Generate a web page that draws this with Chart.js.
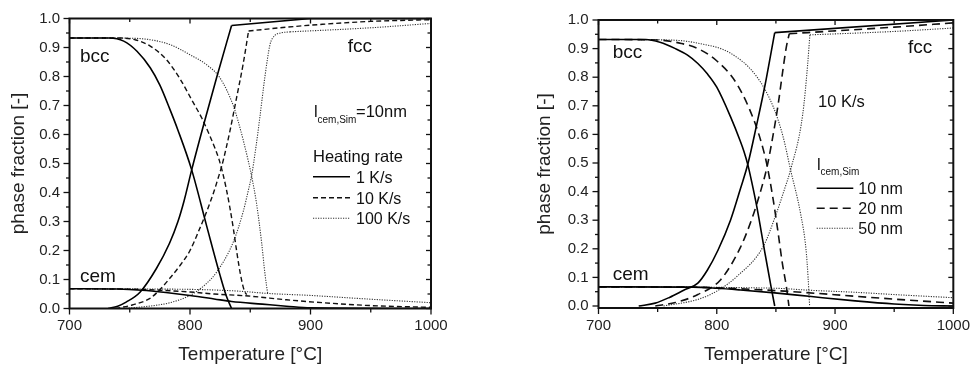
<!DOCTYPE html>
<html><head><meta charset="utf-8">
<script src="https://cdn.jsdelivr.net/npm/chart.js@4.4.1/dist/chart.umd.min.js"></script>
<style>
html,body{margin:0;padding:0;background:#fff;}
#wrap{position:relative;width:979px;height:367px;overflow:hidden;background:#fff;}
canvas{position:absolute;top:0;}
</style></head><body>
<div id="wrap">
<canvas id="left" width="490" height="367" style="left:0"></canvas>
<canvas id="right" width="489" height="367" style="left:490px"></canvas>
</div>
<script>
// ---------- tick labels ----------
const xTicks = [700, 800, 900, 1000];
const xMinor = [750, 850, 950];
const yTicks = [0, 0.1, 0.2, 0.3, 0.4, 0.5, 0.6, 0.7, 0.8, 0.9, 1.0];
const yMinor = [0.05, 0.15, 0.25, 0.35, 0.45, 0.55, 0.65, 0.75, 0.85, 0.95];

// ---------- LEFT chart: heating rate (l_cem,Sim = 10 nm) ----------
const L_bcc_1_T = [700, 733, 745, 756, 767, 775, 783, 790, 801.4, 813.8, 824.9, 830, 834.5];
const L_bcc_1_Y = [0.933, 0.933, 0.922, 0.887, 0.83, 0.77, 0.69, 0.615, 0.478, 0.285, 0.115, 0.045, 0];
const L_fcc_1_T = [732, 740, 747, 758.5, 772, 783, 790, 795, 801.4, 812.4, 822, 834.5];
const L_fcc_1_Y = [0, 0.008, 0.022, 0.056, 0.137, 0.225, 0.3, 0.37, 0.478, 0.65, 0.795, 0.976];
const L_fcc_1_topT = [834.5, 900, 1000];
const L_fcc_1_topY = [0.976, 1.0, 1.0];
const L_cem_1_T = [700, 740, 760, 780, 800, 820, 834.5, 860, 880, 900, 1000];
const L_cem_1_Y = [0.068, 0.067, 0.063, 0.055, 0.045, 0.033, 0.024, 0.015, 0.008, 0.002, 0];

const L_bcc_10_T = [700, 740, 755, 767, 780, 792, 802, 810, 816, 821, 824, 827, 830, 833, 836, 839, 842, 845, 847];
const L_bcc_10_Y = [0.933, 0.933, 0.926, 0.905, 0.86, 0.79, 0.715, 0.655, 0.6, 0.55, 0.515, 0.47, 0.415, 0.35, 0.275, 0.19, 0.115, 0.062, 0.048];
const L_fcc_10_T = [738, 752, 766.8, 775, 783.4, 792, 800, 807, 813.9, 820, 823, 826.3, 830, 833.2, 838.8, 844.2, 848.6];
const L_fcc_10_Y = [0, 0.012, 0.035, 0.065, 0.105, 0.15, 0.2, 0.265, 0.335, 0.405, 0.445, 0.49, 0.553, 0.613, 0.73, 0.845, 0.957];
const L_fcc_10_topT = [848.6, 880, 910, 950, 1000];
const L_fcc_10_topY = [0.957, 0.97, 0.98, 0.99, 0.996];
const L_cem_10_T = [700, 760, 780, 800, 820, 848.6, 880, 910, 950, 1000];
const L_cem_10_Y = [0.068, 0.066, 0.062, 0.057, 0.05, 0.043, 0.03, 0.02, 0.01, 0.004];

const L_bcc_100_T = [700, 750, 766.8, 783.4, 800, 813.9, 824.9, 835.9, 840, 844.2, 848, 851.2, 855.3, 859.5, 862.2, 864.5];
const L_bcc_100_Y = [0.933, 0.932, 0.927, 0.91, 0.875, 0.84, 0.795, 0.70, 0.645, 0.58, 0.515, 0.455, 0.36, 0.225, 0.12, 0.05];
const L_fcc_100_T = [745, 770, 783.4, 800, 812, 822.2, 836, 844.2, 848, 851.2, 854.5, 858, 862.2, 866.4, 870, 875, 883];
const L_fcc_100_Y = [0, 0.01, 0.02, 0.045, 0.08, 0.126, 0.23, 0.335, 0.4, 0.46, 0.55, 0.66, 0.80, 0.91, 0.94, 0.95, 0.954];
const L_fcc_100_topT = [883, 950, 1000];
const L_fcc_100_topY = [0.954, 0.968, 0.983];
const L_cem_100_T = [700, 800, 840, 864.5, 900, 950, 1000];
const L_cem_100_Y = [0.068, 0.066, 0.06, 0.052, 0.045, 0.032, 0.02];

// ---------- RIGHT chart: 10 K/s, l_cem,Sim = 10 / 20 / 50 nm ----------
const R_bcc_10_T = [700, 740, 752, 765, 775, 784, 792, 800, 811.6, 820, 823, 826.5, 830, 833.8, 840.7, 846.3, 849];
const R_bcc_10_Y = [0.932, 0.932, 0.922, 0.9, 0.878, 0.848, 0.812, 0.765, 0.662, 0.575, 0.54, 0.49, 0.425, 0.348, 0.186, 0.058, 0];
const R_fcc_10_T = [734, 748, 760, 772, 784, 792, 801, 811.6, 820, 826.5, 833.8, 840.7, 846.3, 849];
const R_fcc_10_Y = [0, 0.01, 0.03, 0.055, 0.08, 0.125, 0.195, 0.3, 0.41, 0.5, 0.635, 0.77, 0.895, 0.956];
const R_fcc_10_topT = [849, 1000];
const R_fcc_10_topY = [0.956, 1.0];
const R_cem_10_T = [700, 780, 800, 820, 849, 880, 917, 950, 975, 1000];
const R_cem_10_Y = [0.067, 0.066, 0.062, 0.056, 0.046, 0.033, 0.018, 0.007, 0.002, 0];

const R_bcc_20_T = [700, 750, 770, 784, 800.6, 817.2, 832.4, 839.4, 842.7, 847.7, 851.9, 855.4, 858.8, 861];
const R_bcc_20_Y = [0.932, 0.93, 0.918, 0.9, 0.855, 0.775, 0.639, 0.546, 0.488, 0.372, 0.255, 0.151, 0.069, 0];
const R_fcc_20_T = [748, 765, 784, 803.3, 820, 829.7, 836.6, 842.7, 847.7, 851.9, 855.4, 858.8, 861.3];
const R_fcc_20_Y = [0, 0.012, 0.04, 0.092, 0.205, 0.305, 0.395, 0.49, 0.6, 0.705, 0.81, 0.905, 0.952];
const R_fcc_20_topT = [861.3, 900, 950, 1000];
const R_fcc_20_topY = [0.952, 0.962, 0.975, 0.99];
const R_cem_20_T = [700, 790, 820, 840, 861.3, 917, 950, 1000];
const R_cem_20_Y = [0.067, 0.065, 0.06, 0.056, 0.051, 0.034, 0.024, 0.01];

const R_bcc_50_T = [700, 760, 784, 811.6, 833.8, 847.7, 856, 862.4, 871, 875.4, 877.2, 878.5];
const R_bcc_50_Y = [0.932, 0.93, 0.919, 0.884, 0.802, 0.697, 0.593, 0.476, 0.32, 0.2, 0.1, 0];
const R_fcc_50_T = [755, 784, 800, 817.2, 839.4, 850.5, 857.4, 862.4, 872.6, 876.8, 878.7];
const R_fcc_50_Y = [0, 0.023, 0.052, 0.104, 0.209, 0.325, 0.41, 0.476, 0.668, 0.843, 0.948];
const R_fcc_50_topT = [878.7, 950, 1000];
const R_fcc_50_topY = [0.948, 0.96, 0.972];
const R_cem_50_T = [700, 850, 878.7, 917, 950, 1000];
const R_cem_50_Y = [0.067, 0.062, 0.055, 0.048, 0.04, 0.029];

// ---------- styles ----------
const FONT = "'Liberation Sans', Arial, Helvetica, sans-serif";
const STY = {
  solid:   { color: '#000', width: 1.6, dash: [] },
  dashL:   { color: '#111', width: 1.4, dash: [5, 3] },
  dashR:   { color: '#111', width: 1.6, dash: [8, 5] },
  dotted:  { color: '#333', width: 1.1, dash: [1.2, 1.3] }
};

function ds(T, Y, s, straight) {
  const d = {
    data: T.map((t, i) => ({ x: t, y: Y[i] })),
    borderColor: s.color, borderWidth: s.width, borderDash: s.dash,
    pointRadius: 0, fill: false, showLine: true
  };
  if (straight) { d.tension = 0; d.cubicInterpolationMode = 'default'; }
  else { d.cubicInterpolationMode = 'monotone'; }
  return d;
}

function framePlugin(ann) {
  return {
    id: 'frameAnn',
    afterDatasetsDraw(chart) {
      const { ctx, chartArea: a, scales: { x, y } } = chart;
      ctx.save();
      ctx.strokeStyle = '#111';
      ctx.lineWidth = 1.3;
      ctx.setLineDash([]);
      const seg = (x1, y1, x2, y2) => { ctx.beginPath(); ctx.moveTo(x1, y1); ctx.lineTo(x2, y2); ctx.stroke(); };
      xTicks.forEach(v => { const p = x.getPixelForValue(v); seg(p, a.bottom, p, a.bottom + 6); seg(p, a.top, p, a.top + 5); });
      xMinor.forEach(v => { const p = x.getPixelForValue(v); seg(p, a.bottom, p, a.bottom + 4); seg(p, a.top, p, a.top + 3.5); });
      yTicks.forEach(v => { const p = y.getPixelForValue(v); seg(a.left - 6, p, a.left, p); seg(a.right - 5, p, a.right, p); });
      yMinor.forEach(v => { const p = y.getPixelForValue(v); seg(a.left - 3.5, p, a.left, p); seg(a.right - 3.5, p, a.right, p); });
      ctx.lineWidth = 2;
      ctx.strokeRect(a.left, a.top, a.right - a.left, a.bottom - a.top);

      // annotations
      ctx.fillStyle = '#111';
      ctx.textBaseline = 'alphabetic';
      ctx.textAlign = 'left';
      ann.texts.forEach(t => { ctx.font = t.size + 'px ' + FONT; ctx.fillText(t.t, t.x, t.y); });
      const L = ann.lab;
      ctx.font = '16.5px ' + FONT; ctx.fillText('l', L.x, L.y);
      ctx.font = '10px ' + FONT; ctx.fillText('cem,Sim', L.x + 3.5, L.y + 5.4);
      if (L.rest) { ctx.font = '16.5px ' + FONT; ctx.fillText(L.rest, L.x + 42, L.y); }
      ann.legend.forEach(e => {
        const s = STY[e.style];
        ctx.strokeStyle = s.color; ctx.lineWidth = s.width; ctx.setLineDash(s.dash);
        seg(e.x1, e.y, e.x2, e.y);
        ctx.setLineDash([]);
        ctx.fillStyle = '#111';
        ctx.font = '16px ' + FONT;
        ctx.fillText(e.label, e.tx, e.y + 6);
      });
      ctx.restore();
    }
  };
}

function makeChart(id, datasets, opt) {
  return new Chart(document.getElementById(id), {
    type: 'scatter',
    data: { datasets },
    options: {
      responsive: false, animation: false, devicePixelRatio: 1,
      layout: { padding: opt.pad },
      plugins: { legend: { display: false }, tooltip: { enabled: false } },
      scales: {
        x: {
          type: 'linear', min: 700, max: 1000,
          afterFit: s => { s.height = opt.xH; },
          afterBuildTicks: s => { s.ticks = xTicks.map(v => ({ value: v })); },
          ticks: { font: { family: FONT, size: 15 }, color: '#222', padding: opt.xPad, maxRotation: 0, autoSkip: false, callback: v => String(v) },
          grid: { display: false, drawTicks: false },
          border: { display: false },
          title: { display: true, text: 'Temperature [°C]', font: { family: FONT, size: 19 }, color: '#222', padding: { top: 0, bottom: 1 } }
        },
        y: {
          type: 'linear', min: opt.yMin, max: 1.0,
          afterFit: s => { s.width = opt.yW; },
          afterBuildTicks: s => { s.ticks = yTicks.map(v => ({ value: v })); },
          ticks: { font: { family: FONT, size: 15 }, color: '#222', padding: opt.yPad, autoSkip: false, callback: v => Number(v).toFixed(1) },
          grid: { display: false, drawTicks: false },
          border: { display: false },
          title: { display: true, text: 'phase fraction [-]', font: { family: FONT, size: 19 }, color: '#222', padding: { top: 7, bottom: 0 } }
        }
      }
    },
    plugins: [framePlugin(opt.ann)]
  });
}

makeChart('left', [
  ds(L_bcc_1_T, L_bcc_1_Y, STY.solid), ds(L_fcc_1_T, L_fcc_1_Y, STY.solid), ds(L_fcc_1_topT, L_fcc_1_topY, STY.solid, true), ds(L_cem_1_T, L_cem_1_Y, STY.solid),
  ds(L_bcc_10_T, L_bcc_10_Y, STY.dashL), ds(L_fcc_10_T, L_fcc_10_Y, STY.dashL), ds(L_fcc_10_topT, L_fcc_10_topY, STY.dashL), ds(L_cem_10_T, L_cem_10_Y, STY.dashL),
  ds(L_bcc_100_T, L_bcc_100_Y, STY.dotted), ds(L_fcc_100_T, L_fcc_100_Y, STY.dotted), ds(L_fcc_100_topT, L_fcc_100_topY, STY.dotted), ds(L_cem_100_T, L_cem_100_Y, STY.dotted)
], {
  pad: { left: 0, top: 18.5, right: 59, bottom: 0 }, xH: 58.5, yW: 69.5, xPad: 8, yPad: 9.5, yMin: 0,
  ann: {
    texts: [
      { t: 'bcc', x: 80, y: 62.3, size: 19 },
      { t: 'fcc', x: 347.7, y: 52.3, size: 19 },
      { t: 'cem', x: 80, y: 281.7, size: 19 },
      { t: 'Heating rate', x: 313, y: 161.7, size: 16.5 }
    ],
    lab: { x: 314, y: 117.3, rest: '=10nm' },
    legend: [
      { style: 'solid', x1: 313, x2: 350, y: 176.7, tx: 356, label: '1 K/s' },
      { style: 'dashL', x1: 313, x2: 350, y: 197.8, tx: 356, label: '10 K/s' },
      { style: 'dotted', x1: 313, x2: 350, y: 218.3, tx: 356, label: '100 K/s' }
    ]
  }
});

makeChart('right', [
  ds(R_bcc_10_T, R_bcc_10_Y, STY.solid), ds(R_fcc_10_T, R_fcc_10_Y, STY.solid), ds(R_fcc_10_topT, R_fcc_10_topY, STY.solid, true), ds(R_cem_10_T, R_cem_10_Y, STY.solid),
  ds(R_bcc_20_T, R_bcc_20_Y, STY.dashR), ds(R_fcc_20_T, R_fcc_20_Y, STY.dashR), ds(R_fcc_20_topT, R_fcc_20_topY, STY.dashR), ds(R_cem_20_T, R_cem_20_Y, STY.dashR),
  ds(R_bcc_50_T, R_bcc_50_Y, STY.dotted), ds(R_fcc_50_T, R_fcc_50_Y, STY.dotted), ds(R_fcc_50_topT, R_fcc_50_topY, STY.dotted), ds(R_cem_50_T, R_cem_50_Y, STY.dotted)
], {
  pad: { left: 36, top: 20, right: 19, bottom: 0 }, xH: 59, yW: 72.5, xPad: 9, yPad: 10, yMin: -0.007,
  ann: {
    texts: [
      { t: 'bcc', x: 122.7, y: 58.3, size: 19 },
      { t: 'fcc', x: 418, y: 53.3, size: 19 },
      { t: 'cem', x: 122.7, y: 280, size: 19 },
      { t: '10 K/s', x: 328, y: 107.3, size: 16.5 }
    ],
    lab: { x: 327, y: 170, rest: null },
    legend: [
      { style: 'solid', x1: 326.7, x2: 363.3, y: 188.3, tx: 368.3, label: '10 nm' },
      { style: 'dashR', x1: 326.7, x2: 363.3, y: 208.3, tx: 368.3, label: '20 nm' },
      { style: 'dotted', x1: 326.7, x2: 363.3, y: 228.3, tx: 368.3, label: '50 nm' }
    ]
  }
});
</script>
</body></html>
